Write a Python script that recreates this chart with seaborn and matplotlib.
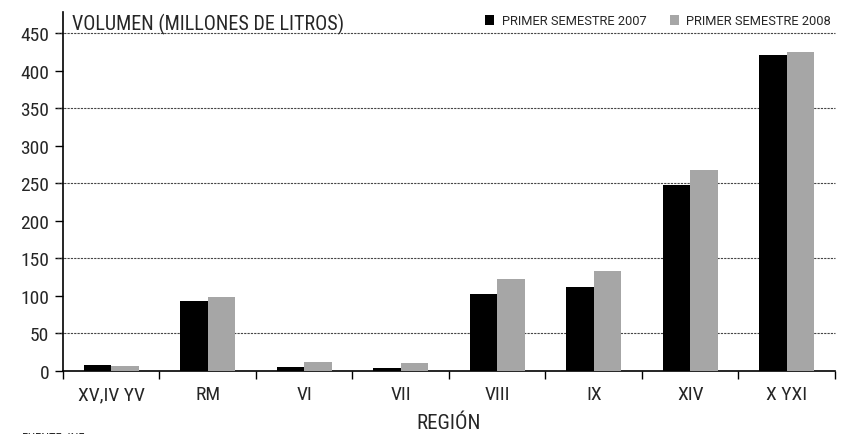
import numpy as np
import pandas as pd
import matplotlib
matplotlib.use("Agg")
import matplotlib.pyplot as plt
from matplotlib import font_manager
import seaborn as sns

# Datos (millones de litros)
regiones = ["XV,IV YV", "RM", "VI", "VII", "VIII", "IX", "XIV", "X YXI"]
sem_2007 = [8, 93, 6, 4, 103, 112, 248, 420]
sem_2008 = [7, 99, 12, 11, 123, 133, 267, 425]
series = ["PRIMER SEMESTRE 2007", "PRIMER SEMESTRE 2008"]
colores = ["#000000", "#a6a6a6"]

yticks = list(range(0, 451, 50))
lineas_guia = [50, 150, 250, 350, 450]


def elegir_fuente():
    # busca una fuente angosta instalada
    nombres = {f.name for f in font_manager.fontManager.ttflist}
    for cand in ["Liberation Sans Narrow", "Roboto Condensed", "Open Sans Condensed",
                 "DejaVu Sans Condensed", "Noto Sans Condensed"]:
        if cand in nombres:
            return cand, "normal"
    for f in font_manager.fontManager.ttflist:
        if f.name == "DejaVu Sans" and f.stretch == "condensed":
            return "DejaVu Sans", "condensed"
    return "DejaVu Sans", "normal"


def armar_tabla():
    filas = []
    for reg, v1, v2 in zip(regiones, sem_2007, sem_2008):
        filas.append({"region": reg, "serie": series[0], "valor": v1})
        filas.append({"region": reg, "serie": series[1], "valor": v2})
    return pd.DataFrame(filas)


def plotar(df):
    sns.set_style("white")
    fuente, estiramiento = elegir_fuente()
    plt.rcParams["font.family"] = [fuente, "DejaVu Sans"]
    plt.rcParams["font.stretch"] = estiramiento

    fig = plt.figure(figsize=(8.43, 4.35), dpi=100)
    ax = fig.add_axes([0.0747, 0.1448, 0.9158, 0.8255])

    sns.barplot(data=df, x="region", y="valor", hue="serie", order=regiones,
                hue_order=series, palette=colores, width=0.57, saturation=1,
                edgecolor="none", linewidth=0, ax=ax, zorder=3)

    # lineas punteadas en 50, 150, 250...
    for v in lineas_guia:
        ax.axhline(v, xmin=-0.008, xmax=1, color="#444444", lw=0.8,
                   ls=(0, (2, 1)), clip_on=False, zorder=1)

    ax.set_xlim(-0.5, len(regiones) - 0.5)
    ax.set_ylim(0, 478)
    ax.set_yticks(yticks)
    ax.set_yticklabels([str(t) for t in yticks], fontsize=14)

    # ticks del eje x entre categorias
    ax.set_xticks(np.arange(-0.5, len(regiones), 1.0))
    ax.set_xticklabels([])
    ax.set_xticks(range(len(regiones)), minor=True)
    ax.set_xticklabels(regiones, minor=True, fontsize=14)
    ax.tick_params(axis="x", which="major", length=6, width=1, color="black",
                   direction="out", bottom=True)
    ax.tick_params(axis="x", which="minor", length=0, pad=10)
    ax.tick_params(axis="y", length=6, width=1, color="black",
                   direction="out", left=True, pad=4)

    for lado in ["top", "right"]:
        ax.spines[lado].set_visible(False)
    ax.spines["left"].set_color("black")
    ax.spines["bottom"].set_color("black")
    ax.spines["left"].set_linewidth(1.2)
    ax.spines["bottom"].set_linewidth(1.2)

    ax.set_xlabel("REGIÓN", fontsize=15, labelpad=7)
    ax.set_ylabel("")
    ax.text(0.012, 0.997, "VOLUMEN (MILLONES DE LITROS)", transform=ax.transAxes,
            fontsize=14.5, ha="left", va="top")

    ax.legend(loc="center right", bbox_to_anchor=(0.995, 0.975), ncol=2,
              frameon=False, prop={"family": "Roboto", "size": 9.3},
              handlelength=0.75, handleheight=0.75, handletextpad=0.55,
              columnspacing=1.8, borderaxespad=0, borderpad=0)

    fig.text(0.026, 0.008, "FUENTE: INE", fontsize=9, ha="left", va="top")

    fig.savefig("out.png", dpi=100)


def main():
    df = armar_tabla()
    plotar(df)


if __name__ == "__main__":
    main()
